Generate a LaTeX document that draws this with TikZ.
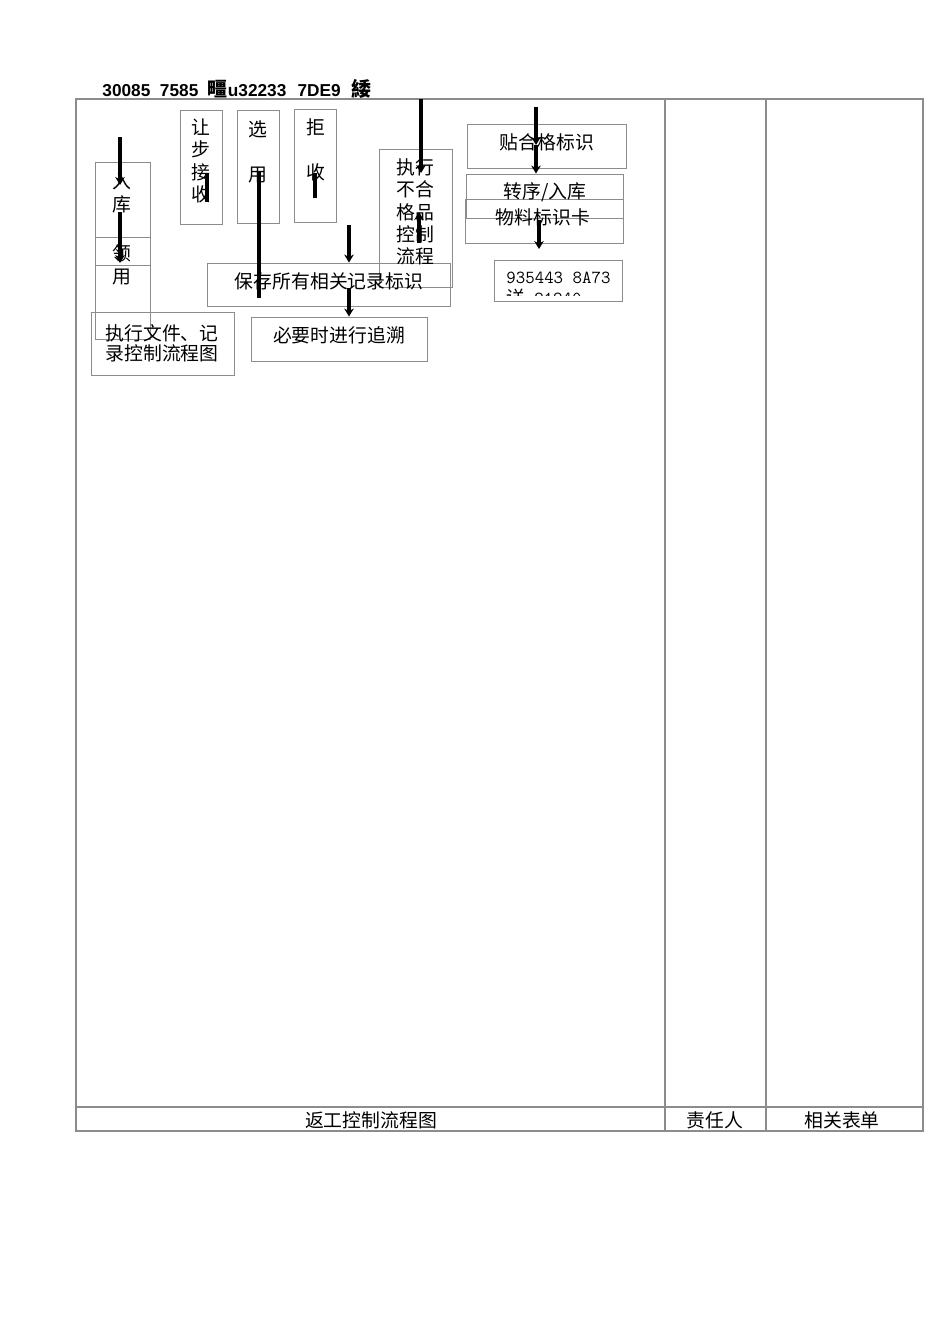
\documentclass[tikz,border=0pt]{standalone}
\usepackage{fontspec}
\setmainfont{Liberation Serif}
\newfontfamily\cjk{Noto Sans CJK SC}
\newfontfamily\hdrfont{Liberation Sans}
\usepackage{tikz}
\usetikzlibrary{arrows.meta,fit}

\begin{document}
\begin{tikzpicture}[x=0.6263pt,y=-0.6263pt,>={Stealth[length=5pt,width=6pt]},
            semithick]
        \tikzstyle{every node}=[inner sep=0pt]
        \tikzstyle{box}=[draw=black!45,line width=0.6pt]
        \tikzstyle{grid}=[draw=black!45,line width=0.7pt]
        \tikzstyle{txt}=[align=center,font=\cjk\fontsize{11.8}{14}\selectfont]
        \tikzstyle{flow}=[line width=1.9pt]
        \useasboundingbox (0,0) rectangle (950,1344);

        % header line
        \node[anchor=base west,font=\hdrfont\bfseries\fontsize{10.8}{12}\selectfont] (title) at (102,96)
            {30085\hspace{6pt}7585\hspace{6pt}{\cjk\fontsize{12.5}{14}\selectfont 疅}u32233\hspace{7pt}7DE9\hspace{7pt}{\cjk\fontsize{12.5}{14}\selectfont 緌}};

        % table
        \draw[grid] (76,99) rectangle (923,1131);
        \draw[grid] (665,99) -- (665,1131);
        \draw[grid] (766,99) -- (766,1131);
        \draw[grid] (76,1107) -- (923,1107);
        \node[txt] (colflow) at (371,1120) {返工控制流程图};
        \node[txt] (colwho) at (715,1120) {责任人};
        \node[txt] (colform) at (842,1120) {相关表单};

        % boxes
        \node[box,fit={(95,162) (150,265)}] (ruku) {};
        \node[box,fit={(95,237) (150,339)}] (lingyong) {};
        \node[box,fit={(180,110) (222,224)}] (rangbu) {};
        \node[box,fit={(237,110) (279,223)}] (xuanyong) {};
        \node[box,fit={(294,109) (336,222)}] (jushou) {};
        \node[box,fit={(379,149) (452,287)}] (buhege) {};
        \node[box,fit={(207,263) (450,306)}] (baocun) {};
        \node[box,fit={(251,317) (427,361)}] (zhuisu) {};
        \node[box,fit={(91,312) (234,375)}] (wenjian) {};
        \node[box,fit={(467,124) (626,168)}] (tiehege) {};
        \node[box,fit={(466,174) (623,218)}] (zhuanxu) {};
        \node[box,fit={(465,199) (623,243)}] (biaoshika) {};
        \node[box,fit={(494,260) (622,301)}] (bianhao) {};

        % texts
        \node[txt] (rukuT) at (122,193) {入\\库};
        \node[txt] (lingyongT) at (122,265) {领\\用};
        \node[txt] (rangbuT) at (201,161) {让\\步\\接\\收};
        \node[txt] (xuanyongT) at (258,152) {选\\\mbox{}\\用};
        \node[txt] (jushouT) at (316,150) {拒\\\mbox{}\\收};
        \node[txt] (buhegeT) at (415,212) {执行\\不合\\格品\\控制\\流程};
        \node[txt] (baocunT) at (329,281) {保存所有相关记录标识};
        \node[txt] (zhuisuT) at (339,335) {必要时进行追溯};
        \node[txt,font=\cjk\fontsize{11.8}{12.6}\selectfont] (wenjianT) at (162,343) {执行文件、记\\录控制流程图};
        \node[txt] (tiehegeT) at (547,142) {贴合格标识};
        \node[txt] (zhuanxuT) at (545,192) {转序/入库};
        \node[txt] (biaoshikaT) at (543,217) {物料标识卡};
        \begin{scope}
            \clip (494,260) rectangle (622,295);
            \node[anchor=north west,align=left,font=\ttfamily\fontsize{11.5}{13}\selectfont] (bianhaoT) at (506,272)
                {935443 8A73\\{\cjk 详} 21840};
        \end{scope}

        % arrows
        \coordinate (s1) at (120,137); \coordinate (e1) at (120,185);
        \coordinate (s2) at (120,212); \coordinate (e2) at (120,263);
        \coordinate (s3) at (207,174); \coordinate (e3) at (207,202);
        \coordinate (s4) at (259,172); \coordinate (e4) at (259,298);
        \coordinate (s5) at (315,173); \coordinate (e5) at (315,198);
        \coordinate (s6) at (349,225);
        \coordinate (s7) at (349,288);
        \coordinate (s8) at (421,99);  \coordinate (e8) at (421,173);
        \coordinate (s9) at (419,243); \coordinate (e9) at (419,212);
        \coordinate (s10) at (536,107); \coordinate (m10) at (536,145);
        \coordinate (s11) at (539,220); \coordinate (e11) at (539,249);

        \draw[flow,->] (s1) -- (e1);
        \draw[flow,->] (s2) -- (e2);
        \draw[flow] (s3) -- (e3);
        \draw[flow] (s4) -- (e4);
        \draw[flow] (s5) -- (e5);
        \draw[flow,->] (s6) -- (s6 |- baocun.north);
        \draw[flow,->] (s7) -- (s7 |- zhuisu.north);
        \draw[flow,->] (s8) -- (e8);
        \draw[flow,->] (s9) -- (e9);
        \draw[flow,->] (s10) -- (m10);
        \draw[flow,->] (m10) -- (m10 |- zhuanxu.north);
        \draw[flow,->] (s11) -- (e11);
    \end{tikzpicture}
\end{document}
